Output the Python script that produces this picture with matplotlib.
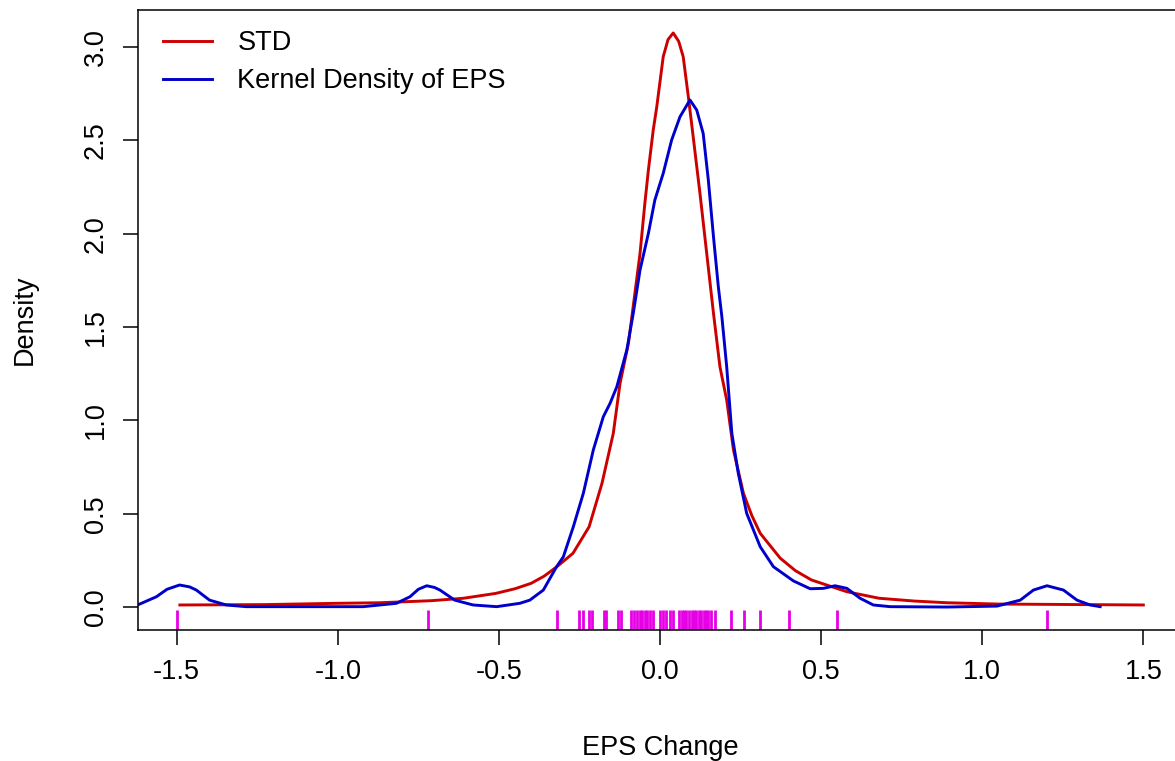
import matplotlib
matplotlib.use("Agg")
import matplotlib.pyplot as plt

# values
std_x = [-1.49, -1.23, -1.00, -0.87, -0.71, -0.61, -0.51, -0.45, -0.40, -0.36,
         -0.32, -0.27, -0.22, -0.18, -0.145, -0.124, -0.098, -0.062, -0.047, -0.036,
         -0.021, -0.010, 0.010, 0.025, 0.041, 0.058, 0.072, 0.088, 0.103, 0.124,
         0.145, 0.166, 0.186, 0.207, 0.228, 0.259, 0.285, 0.311, 0.373, 0.42,
         0.47, 0.58, 0.68, 0.79, 0.89, 1.05, 1.50]
std_y = [0.011, 0.013, 0.020, 0.023, 0.034, 0.047, 0.073, 0.098, 0.127, 0.165,
         0.216, 0.288, 0.430, 0.663, 0.930, 1.198, 1.412, 1.894, 2.162, 2.341,
         2.555, 2.680, 2.948, 3.040, 3.075, 3.030, 2.948, 2.733, 2.519, 2.216,
         1.894, 1.573, 1.287, 1.109, 0.841, 0.609, 0.490, 0.395, 0.262, 0.195,
         0.145, 0.082, 0.047, 0.032, 0.023, 0.016, 0.011]

kde_x = [-1.62, -1.563, -1.53, -1.491, -1.46, -1.439, -1.398, -1.346, -1.284, -0.921,
         -0.818, -0.776, -0.75, -0.724, -0.70, -0.683, -0.637, -0.580, -0.507, -0.435,
         -0.404, -0.362, -0.321, -0.300, -0.269, -0.238, -0.207, -0.176, -0.155, -0.134,
         -0.103, -0.083, -0.062, -0.036, -0.016, 0.010, 0.036, 0.062, 0.093, 0.114,
         0.134, 0.150, 0.166, 0.181, 0.192, 0.207, 0.223, 0.243, 0.269, 0.311,
         0.352, 0.414, 0.466, 0.507, 0.543, 0.580, 0.621, 0.662, 0.714, 0.890,
         1.046, 1.118, 1.159, 1.201, 1.252, 1.294, 1.335, 1.366]
kde_y = [0.012, 0.055, 0.095, 0.118, 0.108, 0.091, 0.037, 0.011, 0.002, 0.002,
         0.020, 0.055, 0.095, 0.114, 0.105, 0.091, 0.037, 0.011, 0.002, 0.020,
         0.037, 0.091, 0.216, 0.269, 0.430, 0.609, 0.841, 1.019, 1.091, 1.180,
         1.377, 1.573, 1.805, 2.002, 2.180, 2.323, 2.501, 2.626, 2.716, 2.662,
         2.537, 2.287, 1.983, 1.716, 1.555, 1.287, 0.930, 0.716, 0.502, 0.323,
         0.216, 0.140, 0.098, 0.100, 0.114, 0.100, 0.047, 0.011, 0.002, 0.000,
         0.005, 0.037, 0.091, 0.114, 0.091, 0.037, 0.011, 0.002]

eps = [-1.50, -0.72, -0.32, -0.25, -0.24, -0.22, -0.21, -0.175, -0.168, -0.13,
       -0.12, -0.09, -0.08, -0.07, -0.062, -0.055, -0.048, -0.04, -0.03, -0.022,
       0.0, 0.01, 0.02, 0.03, 0.04, 0.06, 0.068, 0.075, 0.082, 0.09,
       0.098, 0.105, 0.112, 0.12, 0.128, 0.135, 0.142, 0.15, 0.157, 0.17,
       0.22, 0.26, 0.31, 0.40, 0.55, 1.20]

x_ticks = [-1.5, -1.0, -0.5, 0.0, 0.5, 1.0, 1.5]
y_ticks = [0.0, 0.5, 1.0, 1.5, 2.0, 2.5, 3.0]

plt.rcParams['font.family'] = ['Liberation Sans', 'DejaVu Sans']
fs = 19.5

fig = plt.figure(figsize=(11.75, 7.61), dpi=100)
ax = fig.add_axes([138 / 1175, 1 - 630 / 761, 1044 / 1175, 620 / 761])

ax.plot(std_x, std_y, color='#CD0000', lw=2.1, label='STD', solid_joinstyle='round')
ax.plot(kde_x, kde_y, color='#0000CD', lw=2.1, label='Kernel Density of EPS',
        solid_joinstyle='round')

# rug along the bottom
ax.vlines(eps, 0, 0.032, transform=ax.get_xaxis_transform(), color='#E600E6', lw=2)

ax.set_xlim(-1.62, 1.62)
ax.set_ylim(-0.123, 3.198)
ax.set_xticks(x_ticks)
ax.set_xticklabels([f'{v:.1f}' for v in x_ticks])
ax.set_yticks(y_ticks)
ax.set_yticklabels([f'{v:.1f}' for v in y_ticks], va='center')
ax.tick_params(axis='both', length=11, width=1.1, labelsize=fs, pad=10, color='black')
ax.tick_params(axis='y', labelrotation=90)
for s in ax.spines.values():
    s.set_linewidth(1.1)
    s.set_color('black')

ax.set_xlabel('EPS Change', fontsize=fs, va='center')
ax.xaxis.set_label_coords(0.5, (630 - 748) / 620)
ax.set_ylabel('Density', fontsize=fs, va='center')
ax.yaxis.set_label_coords((25 - 138) / 1044, 0.5)

ax.legend(loc='upper left', bbox_to_anchor=(25 / 1044, 1 - 20 / 620), frameon=False,
          fontsize=fs, borderpad=0, borderaxespad=0, handlelength=1.8,
          handletextpad=0.95, labelspacing=0.45)

fig.savefig('out.png', dpi=100)
